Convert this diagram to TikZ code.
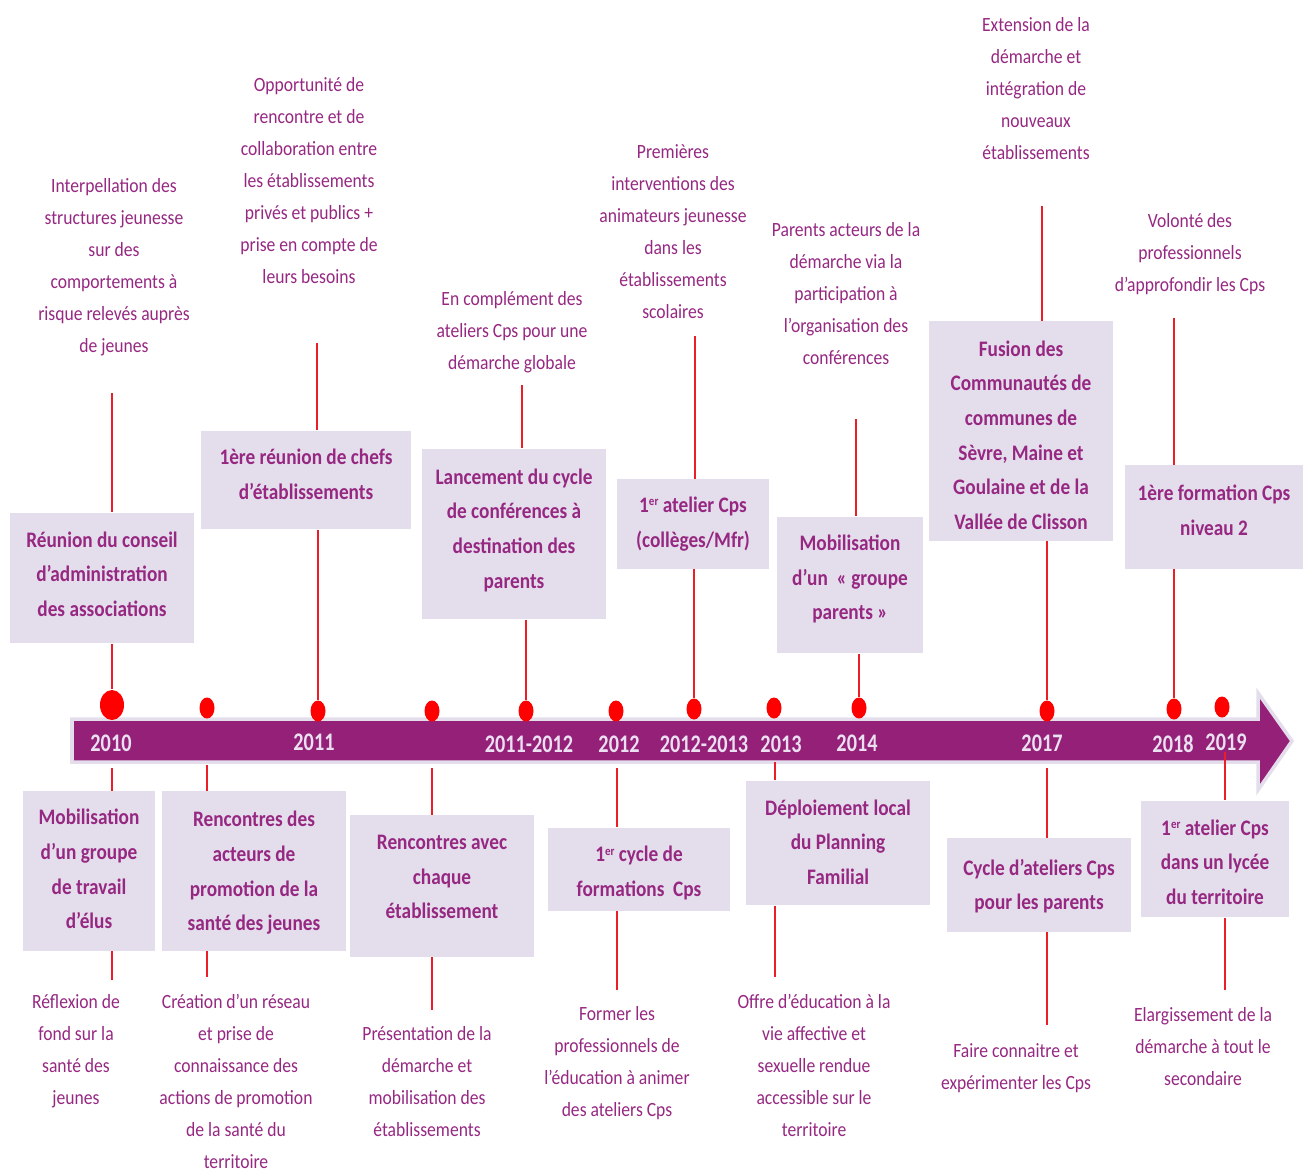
\documentclass[tikz,border=0pt]{standalone}
\usepackage{fontspec}
\setmainfont{Carlito}
\newfontfamily\tlfont{Carlito}[FakeStretch=0.87]
\newfontfamily\yearfont{Carlito}[FakeStretch=0.8]
\usetikzlibrary{shapes.geometric}

\definecolor{tlpurple}{RGB}{148,33,119}
\definecolor{tlbox}{RGB}{228,222,236}
\definecolor{tltext}{RGB}{150,40,130}
\definecolor{tlyear}{RGB}{234,224,242}
\definecolor{tlred}{RGB}{235,30,40}

\newcommand\ersup{\raisebox{0.3em}{\fontsize{3.6}{4}\selectfont er}}

\tikzset{
  eventbox/.style={fill=tlbox, inner sep=0pt},
  boxtext/.style={text=tltext, align=center, inner sep=0pt,
    font=\tlfont\bfseries\fontsize{6.3}{9.85}\selectfont},
  notetext/.style={text=tltext, align=center, inner sep=0pt,
    font=\tlfont\fontsize{5.75}{9.1}\selectfont},
  yearlabel/.style={text=tlyear, inner sep=0pt,
    font=\yearfont\bfseries\fontsize{7.2}{8}\selectfont},
  stemline/.style={draw=tlred, line width=0.45pt},
  tldot/.style={ellipse, fill=red, inner sep=0pt, minimum width=0.15cm, minimum height=0.21cm},
}

\begin{document}
\begin{tikzpicture}[x=0.01cm, y=-0.01cm]
        \useasboundingbox (0,0) rectangle (1304,1172);
        % arrow
        \draw [fill=tlpurple, draw=tlbox, line width=1pt]
          (72,719) -- (1258,719) -- (1258,693) -- (1292,741) -- (1258,790) -- (1258,762) -- (72,762) -- cycle;
        % years
        \node [yearlabel] (y2010) at (111,743) {2010};
        \node [yearlabel] (y2011) at (314,742) {2011};
        \node [yearlabel] (y1112) at (529,744) {2011-2012};
        \node [yearlabel] (y2012) at (619,744) {2012};
        \node [yearlabel] (y1213) at (704,744) {2012-2013};
        \node [yearlabel] (y2013) at (781,744) {2013};
        \node [yearlabel] (y2014) at (857,743) {2014};
        \node [yearlabel] (y2017) at (1042,743) {2017};
        \node [yearlabel] (y2018) at (1173,744) {2018};
        \node [yearlabel] (y2019) at (1226,742) {2019};
        % dots
        \node [tldot, minimum width=0.24cm, minimum height=0.30cm] (d1) at (112,705) {};
        \node [tldot] (d2) at (207,708) {};
        \node [tldot] (d3) at (318,711) {};
        \node [tldot] (d4) at (432,711) {};
        \node [tldot] (d5) at (526,711) {};
        \node [tldot] (d6) at (616,711) {};
        \node [tldot] (d7) at (694,709) {};
        \node [tldot] (d8) at (774,708) {};
        \node [tldot] (d9) at (859,708) {};
        \node [tldot] (d10) at (1047,711) {};
        \node [tldot] (d11) at (1174,709) {};
        \node [tldot] (d12) at (1222,707) {};
        % boxes above
        \node [eventbox, minimum width=1.83cm, minimum height=1.30cm] (a1) at (102,578) {};
        \node [eventbox, minimum width=2.10cm, minimum height=0.98cm] (a2) at (306,480) {};
        \node [eventbox, minimum width=1.83cm, minimum height=1.70cm] (a3) at (514,534) {};
        \node [eventbox, minimum width=1.52cm, minimum height=0.89cm] (a4) at (693,524) {};
        \node [eventbox, minimum width=1.46cm, minimum height=1.36cm] (a5) at (850,585) {};
        \node [eventbox, minimum width=1.84cm, minimum height=2.19cm] (a6) at (1021,431) {};
        \node [eventbox, minimum width=1.77cm, minimum height=1.03cm] (a7) at (1214,517) {};
        \node [boxtext] (a1t) at (102,574) {Réunion du conseil\\d’administration\\des associations};
        \node [boxtext] (a2t) at (306,474) {1ère réunion de chefs\\d’établissements};
        \node [boxtext] (a3t) at (514,530) {Lancement du cycle\\de conférences à\\destination des\\parents};
        \node [boxtext] (a4t) at (693,524) {1\ersup{} atelier Cps\\(collèges/Mfr)};
        \node [boxtext] (a5t) at (850,579) {Mobilisation\\d’un ~« groupe\\parents »};
        \node [boxtext] (a6t) at (1021,435) {Fusion des\\Communautés de\\communes de\\Sèvre, Maine et\\Goulaine et de la\\Vallée de Clisson};
        \node [boxtext] (a7t) at (1214,510) {1ère formation Cps\\niveau 2};
        % boxes below
        \node [eventbox, minimum width=1.32cm, minimum height=1.59cm] (b1) at (89,871) {};
        \node [eventbox, minimum width=1.84cm, minimum height=1.59cm] (b2) at (254,871) {};
        \node [eventbox, minimum width=1.84cm, minimum height=1.41cm] (b3) at (442,886) {};
        \node [eventbox, minimum width=1.82cm, minimum height=0.83cm] (b4) at (639,869) {};
        \node [eventbox, minimum width=1.83cm, minimum height=1.24cm] (b5) at (838,843) {};
        \node [eventbox, minimum width=1.83cm, minimum height=0.93cm] (b6) at (1039,885) {};
        \node [eventbox, minimum width=1.48cm, minimum height=1.16cm] (b7) at (1215,859) {};
        \node [boxtext] (b1t) at (89,869) {Mobilisation\\d’un groupe\\de travail\\d’élus};
        \node [boxtext] (b2t) at (254,873) {Rencontres des\\acteurs de\\promotion de la\\santé des jeunes};
        \node [boxtext] (b3t) at (442,877) {Rencontres avec\\chaque\\établissement};
        \node [boxtext] (b4t) at (639,873) {1\ersup{} cycle de\\formations ~Cps};
        \node [boxtext] (b5t) at (838,842) {Déploiement local\\du Planning\\Familial};
        \node [boxtext] (b6t) at (1039,886) {Cycle d’ateliers Cps\\pour les parents};
        \node [boxtext] (b7t) at (1215,862) {1\ersup{} atelier Cps\\dans un lycée\\du territoire};
        % notes above
        \node [notetext] (n1) at (114,267) {Interpellation des\\structures jeunesse\\sur des\\comportements à\\risque relevés auprès\\de jeunes};
        \node [notetext] (n2) at (309,181) {Opportunité de\\rencontre et de\\collaboration entre\\les établissements\\privés et publics +\\prise en compte de\\leurs besoins};
        \node [notetext] (n3) at (512,332) {En complément des\\ateliers Cps pour une\\démarche globale};
        \node [notetext] (n4) at (673,232) {Premières\\interventions des\\animateurs jeunesse\\dans les\\établissements\\scolaires};
        \node [notetext] (n5) at (846,294) {Parents acteurs de la\\démarche via la\\participation à\\l’organisation des\\conférences};
        \node [notetext] (n6) at (1036,89) {Extension de la\\démarche et\\intégration de\\nouveaux\\établissements};
        \node [notetext] (n7) at (1190,254) {Volonté des\\professionnels\\d’approfondir les Cps};
        % notes below
        \node [notetext] (m1) at (76,1051) {Réflexion de\\fond sur la\\santé des\\jeunes};
        \node [notetext] (m2) at (236,1081) {Création d’un réseau\\et prise de\\connaissance des\\actions de promotion\\de la santé du\\territoire};
        \node [notetext] (m3) at (427,1082) {Présentation de la\\démarche et\\mobilisation des\\établissements};
        \node [notetext] (m4) at (617,1063) {Former les\\professionnels de\\l’éducation à animer\\des ateliers Cps};
        \node [notetext] (m5) at (814,1065) {Offre d’éducation à la\\vie affective et\\sexuelle rendue\\accessible sur le\\territoire};
        \node [notetext] (m6) at (1016,1068) {Faire connaitre et\\expérimenter les Cps};
        \node [notetext] (m7) at (1203,1047) {Elargissement de la\\démarche à tout le\\secondaire};
        % stem ends
        \coordinate (u1) at (112,393);
        \coordinate (u3) at (317,343);
        \coordinate (u5) at (522,385);
        \coordinate (u7) at (695,336);
        \coordinate (u9) at (856,419);
        \coordinate (u10) at (1042,206);
        \coordinate (u11) at (1174,318);
        \coordinate (s1) at (112,768);  \coordinate (e1) at (112,980);
        \coordinate (s2) at (207,765);  \coordinate (e2) at (207,977);
        \coordinate (s4) at (432,768);  \coordinate (e4) at (432,1010);
        \coordinate (s6) at (617,768);  \coordinate (e6) at (617,990);
        \coordinate (s8) at (775,762);  \coordinate (e8) at (775,977);
        \coordinate (s10) at (1047,768); \coordinate (e10) at (1047,1025);
        \coordinate (s12) at (1225,752); \coordinate (e12) at (1225,990);
        % stems above
        \draw [stemline] (u1) -- (u1 |- a1.north);
        \draw [stemline] (d1 |- a1.south) -- (d1);
        \draw [stemline] (u3) -- (u3 |- a2.north);
        \draw [stemline] (d3 |- a2.south) -- (d3);
        \draw [stemline] (u5) -- (u5 |- a3.north);
        \draw [stemline] (d5 |- a3.south) -- (d5);
        \draw [stemline] (u7) -- (u7 |- a4.north);
        \draw [stemline] (d7 |- a4.south) -- (d7);
        \draw [stemline] (u9) -- (u9 |- a5.north);
        \draw [stemline] (d9 |- a5.south) -- (d9);
        \draw [stemline] (u10) -- (u10 |- a6.north);
        \draw [stemline] (d10 |- a6.south) -- (d10);
        \draw [stemline] (u11) -- (u11 |- a7.north);
        \draw [stemline] (d11 |- a7.south) -- (d11);
        % stems below
        \draw [stemline] (s1) -- (s1 |- b1.north);
        \draw [stemline] (e1 |- b1.south) -- (e1);
        \draw [stemline] (s2) -- (s2 |- b2.north);
        \draw [stemline] (e2 |- b2.south) -- (e2);
        \draw [stemline] (s4) -- (s4 |- b3.north);
        \draw [stemline] (e4 |- b3.south) -- (e4);
        \draw [stemline] (s6) -- (s6 |- b4.north);
        \draw [stemline] (e6 |- b4.south) -- (e6);
        \draw [stemline] (s8) -- (s8 |- b5.north);
        \draw [stemline] (e8 |- b5.south) -- (e8);
        \draw [stemline] (s10) -- (s10 |- b6.north);
        \draw [stemline] (e10 |- b6.south) -- (e10);
        \draw [stemline] (s12) -- (s12 |- b7.north);
        \draw [stemline] (e12 |- b7.south) -- (e12);
\end{tikzpicture}
\end{document}
